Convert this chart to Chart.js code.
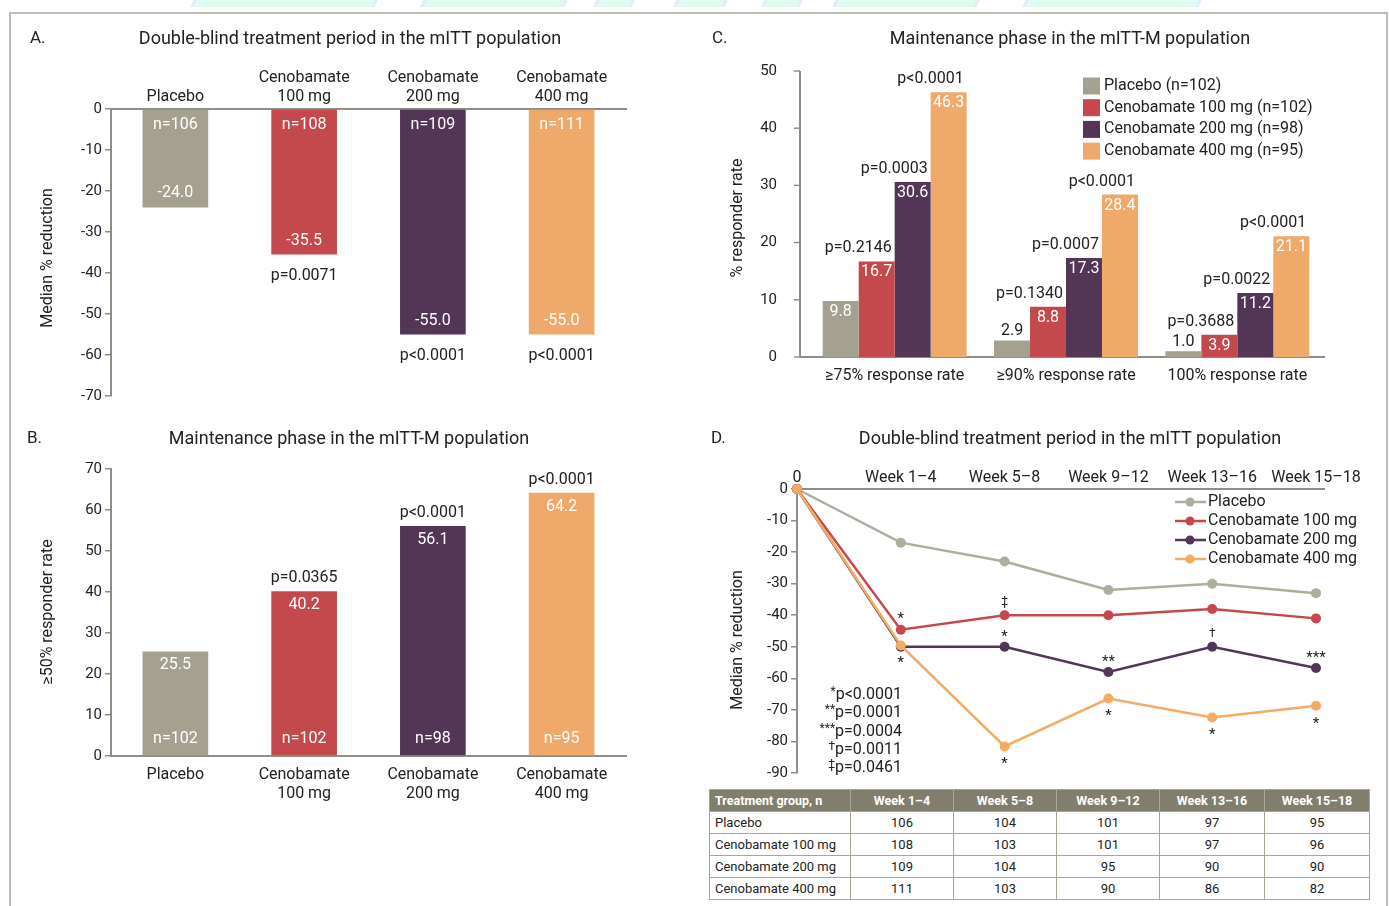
<!DOCTYPE html>
<html>
<head>
<meta charset="utf-8">
<script src="https://cdn.jsdelivr.net/npm/chart.js@4.4.1/dist/chart.umd.min.js"></script>
<style>
    body { margin: 0; background: #fff; width: 1389px; height: 906px; overflow: hidden; position: relative; font-family: Roboto, sans-serif; }
    .frame { position: absolute; left: 9px; top: 12px; width: 1375px; height: 910px; border: 2px solid #bdbdb1; }
    .deco { position: absolute; top: 0; height: 7px; background: #dffbf0; transform: skewX(-25deg); border-left: 3px solid #e4ebfb; border-right: 3px solid #e4ebfb; }
    canvas { position: absolute; display: block; }
    #nTable { position: absolute; left: 709px; top: 789px; width: 660px; border-collapse: collapse; font-size: 13px; color: #222; table-layout: fixed; }
    #nTable th, #nTable td { border: 1px solid #a9a697; height: 21px; padding: 0 5px; text-align: center; }
    #nTable th { background: #827e6e; color: #fff; font-weight: bold; font-size: 12.5px; }
    #nTable td:first-child, #nTable th:first-child { text-align: left; }
</style>
</head>
<body>
<div class="deco" style="left:192px;width:178px"></div>
<div class="deco" style="left:422px;width:138px"></div>
<div class="deco" style="left:595px;width:32px"></div>
<div class="deco" style="left:675px;width:45px"></div>
<div class="deco" style="left:763px;width:32px"></div>
<div class="deco" style="left:834px;width:138px"></div>
<div class="deco" style="left:1024px;width:170px"></div>
<div class="frame"></div>

<canvas id="chartA" width="680" height="395" style="left:10px;top:15px"></canvas>
<canvas id="chartB" width="680" height="400" style="left:10px;top:415px"></canvas>
<canvas id="chartC" width="680" height="395" style="left:700px;top:15px"></canvas>
<canvas id="chartD" width="680" height="370" style="left:700px;top:415px"></canvas>
<table id="nTable">
    <colgroup><col style="width:141px"><col style="width:103px"><col style="width:103px"><col style="width:103px"><col style="width:105px"><col style="width:105px"></colgroup>
    <thead><tr id="nHead"></tr></thead>
    <tbody id="nBody"></tbody>
</table>

<script>
// Data

// Panel A - double-blind period, median % reduction
const aLabels = [['Placebo'], ['Cenobamate', '100 mg'], ['Cenobamate', '200 mg'], ['Cenobamate', '400 mg']];
const aValues = [-24.0, -35.5, -55.0, -55.0];
const aN = ['n=106', 'n=108', 'n=109', 'n=111'];
const aP = ['', 'p=0.0071', 'p<0.0001', 'p<0.0001'];

// Panel B - maintenance phase, >=50% responder rate
const bLabels = [['Placebo'], ['Cenobamate', '100 mg'], ['Cenobamate', '200 mg'], ['Cenobamate', '400 mg']];
const bValues = [25.5, 40.2, 56.1, 64.2];
const bN = ['n=102', 'n=102', 'n=98', 'n=95'];
const bP = ['', 'p=0.0365', 'p<0.0001', 'p<0.0001'];

// Panel C - maintenance phase, responder rates
const cCategories = ['≥75% response rate', '≥90% response rate', '100% response rate'];
const cSeries = ['Placebo (n=102)', 'Cenobamate 100 mg (n=102)', 'Cenobamate 200 mg (n=98)', 'Cenobamate 400 mg (n=95)'];
const cPlacebo = [9.8, 2.9, 1.0];
const c100 = [16.7, 8.8, 3.9];
const c200 = [30.6, 17.3, 11.2];
const c400 = [46.3, 28.4, 21.1];
const cP100 = ['p=0.2146', 'p=0.1340', 'p=0.3688'];
const cP200 = ['p=0.0003', 'p=0.0007', 'p=0.0022'];
const cP400 = ['p<0.0001', 'p<0.0001', 'p<0.0001'];

// Panel D - median % reduction over time
const dWeeks = ['0', 'Week 1–4', 'Week 5–8', 'Week 9–12', 'Week 13–16', 'Week 15–18'];
const dSeries = ['Placebo', 'Cenobamate 100 mg', 'Cenobamate 200 mg', 'Cenobamate 400 mg'];
const dPlacebo = [0, -17, -23, -32, -30, -33];
const d100 = [0, -44.6, -40, -40, -38, -41];
const d200 = [0, -50, -50, -58, -50, -56.7];
const d400 = [0, -49.6, -81.6, -66.4, -72.4, -68.7];
const dMarks100 = ['', '*', '‡', '', '', ''];
const dMarks200 = ['', '', '*', '**', '†', '***'];
const dMarks400 = ['', '*', '*', '*', '*', '*'];
const dFootSym = ['*', '**', '***', '†', '‡'];
const dFootP = ['p<0.0001', 'p=0.0001', 'p=0.0004', 'p=0.0011', 'p=0.0461'];

// Table of n per group
const tHeader = ['Treatment group, n', 'Week 1–4', 'Week 5–8', 'Week 9–12', 'Week 13–16', 'Week 15–18'];
const tGroups = ['Placebo', 'Cenobamate 100 mg', 'Cenobamate 200 mg', 'Cenobamate 400 mg'];
const tPlacebo = [106, 104, 101, 97, 95];
const t100 = [108, 103, 101, 97, 96];
const t200 = [109, 104, 95, 90, 90];
const t400 = [111, 103, 90, 86, 82];

// Styles
const FONT = 'Roboto, sans-serif';
const DARK = '#222';
const AXIS = '#8f8e84';
const groupColors = ['#a4a190', '#c4494d', '#533556', '#eea96b'];
const lineColors = ['#afad9d', '#c8474c', '#54355a', '#f4ab62'];

function txt(ctx, s, x, y, o = {}) {
    ctx.save();
    ctx.font = (o.weight || 'normal') + ' ' + (o.size || 16) + 'px ' + FONT;
    ctx.fillStyle = o.color || DARK;
    ctx.textAlign = o.align || 'center';
    ctx.textBaseline = 'middle';
    if (o.rot) {
        ctx.translate(x, y);
        ctx.rotate(o.rot);
        ctx.fillText(s, 0, 0);
    } else {
        ctx.fillText(s, x, y);
    }
    ctx.restore();
}

// Letter, title and rotated axis title for a panel
function panelText(letter, lx, title, tx, yTitle, yx, yy) {
    return {
        id: 'panelText',
        afterDraw(chart) {
            const ctx = chart.ctx;
            txt(ctx, letter, lx, 24, { size: 17, align: 'left' });
            txt(ctx, title, tx, 24, { size: 18 });
            txt(ctx, yTitle, yx, yy, { size: 16, rot: -Math.PI / 2 });
        }
    };
}

const yTicks = { color: DARK, font: { family: FONT, size: 15 }, padding: 3, stepSize: 10 };
const xTicks = { color: DARK, font: { family: FONT, size: 16 } };
const baseOpts = {
    responsive: false,
    animation: false,
    events: [],
    plugins: { legend: { display: false }, tooltip: { enabled: false } }
};

// Panel A
new Chart(document.getElementById('chartA'), {
    type: 'bar',
    data: {
        labels: aLabels,
        datasets: [{ data: aValues, backgroundColor: groupColors, barPercentage: 0.51, categoryPercentage: 1 }]
    },
    options: {
        ...baseOpts,
        layout: { padding: { left: 41, right: 64, top: 40, bottom: 14 } },
        scales: {
            x: {
                position: 'top',
                grid: { display: false },
                border: { color: AXIS, width: 2 },
                ticks: { ...xTicks, padding: -6 },
                afterFit: s => { s.height = 54; }
            },
            y: {
                min: -70, max: 0,
                ticks: yTicks,
                grid: { drawOnChartArea: false, tickLength: 6, color: AXIS, lineWidth: 1.5 },
                border: { color: AXIS, width: 2 },
                afterFit: s => { s.width = 60; }
            }
        }
    },
    plugins: [panelText('A.', 20, 'Double-blind treatment period in the mITT population', 340, 'Median % reduction', 38, 243), {
        id: 'barText',
        afterDatasetsDraw(chart) {
            const ctx = chart.ctx;
            chart.getDatasetMeta(0).data.forEach((bar, i) => {
                txt(ctx, aN[i], bar.x, bar.base + 15, { color: '#fff', size: 16 });
                txt(ctx, aValues[i].toFixed(1), bar.x, bar.y - 14, { color: '#fff', size: 16 });
                if (aP[i]) txt(ctx, aP[i], bar.x, bar.y + 21, { size: 16 });
            });
        }
    }]
});

// Panel B
new Chart(document.getElementById('chartB'), {
    type: 'bar',
    data: {
        labels: bLabels,
        datasets: [{ data: bValues, backgroundColor: groupColors, barPercentage: 0.51, categoryPercentage: 1 }]
    },
    options: {
        ...baseOpts,
        layout: { padding: { left: 41, right: 64, top: 54, bottom: 9 } },
        scales: {
            x: {
                grid: { display: false },
                border: { color: AXIS, width: 2 },
                ticks: { ...xTicks, padding: 1 },
                afterFit: s => { s.height = 50; }
            },
            y: {
                min: 0, max: 70,
                ticks: yTicks,
                grid: { drawOnChartArea: false, tickLength: 6, color: AXIS, lineWidth: 1.5 },
                border: { color: AXIS, width: 2 },
                afterFit: s => { s.width = 60; }
            }
        }
    },
    plugins: [panelText('B.', 17, 'Maintenance phase in the mITT-M population', 339, '≥50% responder rate', 38, 197), {
        id: 'barText',
        afterDatasetsDraw(chart) {
            const ctx = chart.ctx;
            chart.getDatasetMeta(0).data.forEach((bar, i) => {
                txt(ctx, bValues[i].toFixed(1), bar.x, bar.y + 14, { color: '#fff', size: 16 });
                txt(ctx, bN[i], bar.x, bar.base - 16, { color: '#fff', size: 16 });
                if (bP[i]) txt(ctx, bP[i], bar.x, bar.y - 13, { size: 16 });
            });
        }
    }]
});

// Panel C
const cData = [cPlacebo, c100, c200, c400];
const cPvals = [null, cP100, cP200, cP400];
new Chart(document.getElementById('chartC'), {
    type: 'bar',
    data: {
        labels: cCategories,
        datasets: cData.map((d, i) => ({
            label: cSeries[i], data: d, backgroundColor: groupColors[i],
            categoryPercentage: 0.84, barPercentage: 1
        }))
    },
    options: {
        ...baseOpts,
        layout: { padding: { left: 49, right: 57, top: 56, bottom: 23 } },
        scales: {
            x: {
                grid: { display: false },
                border: { display: false },
                ticks: { ...xTicks, padding: 1 },
                afterFit: s => { s.height = 30; }
            },
            y: {
                min: 0, max: 50,
                ticks: { ...yTicks, padding: 24 },
                grid: { display: false },
                border: { display: false },
                afterFit: s => { s.width = 60; }
            }
        }
    },
    plugins: [panelText('C.', 12, 'Maintenance phase in the mITT-M population', 370, '% responder rate', 38, 203), {
        id: 'axesAndText',
        beforeDatasetsDraw(chart) {
            // y axis sits a little left of the first group
            const ctx = chart.ctx, a = chart.chartArea, y = chart.scales.y;
            const ax = a.left - 9;
            ctx.save();
            ctx.strokeStyle = AXIS;
            ctx.lineWidth = 2;
            ctx.beginPath();
            ctx.moveTo(ax, a.top); ctx.lineTo(ax, a.bottom);
            ctx.moveTo(ax, a.bottom); ctx.lineTo(a.right + 2, a.bottom);
            ctx.stroke();
            ctx.lineWidth = 1.5;
            y.ticks.forEach(t => {
                const py = y.getPixelForValue(t.value);
                ctx.beginPath(); ctx.moveTo(ax - 6, py); ctx.lineTo(ax, py); ctx.stroke();
            });
            ctx.restore();
        },
        afterDatasetsDraw(chart) {
            const ctx = chart.ctx;
            cData.forEach((d, s) => {
                chart.getDatasetMeta(s).data.forEach((bar, i) => {
                    const v = d[i].toFixed(1);
                    if (d[i] < 3.5) txt(ctx, v, bar.x, bar.y - 9, { size: 16 });
                    else txt(ctx, v, bar.x, bar.y + 11, { color: '#fff', size: 16 });
                    if (cPvals[s]) txt(ctx, cPvals[s][i], bar.x + bar.width / 2 - 3, bar.y - 13, { size: 16, align: 'right' });
                });
            });
            // legend
            cSeries.forEach((name, i) => {
                const ly = 71 + i * 21.7;
                ctx.fillStyle = groupColors[i];
                ctx.fillRect(383, ly - 8.5, 17, 17);
                txt(ctx, name, 404, ly, { size: 16, align: 'left' });
            });
        }
    }]
});

// Panel D
const dData = [dPlacebo, d100, d200, d400];
const dMarks = [null, dMarks100, dMarks200, dMarks400];
new Chart(document.getElementById('chartD'), {
    type: 'line',
    data: {
        labels: dWeeks,
        datasets: dData.map((d, i) => ({
            label: dSeries[i], data: d,
            borderColor: lineColors[i], backgroundColor: lineColors[i],
            borderWidth: 2.5, pointRadius: 5, pointBorderWidth: 0,
            pointBackgroundColor: lineColors[i], tension: 0, clip: false,
            order: 3 - i
        }))
    },
    options: {
        ...baseOpts,
        layout: { padding: { left: 37, right: 64, top: 44, bottom: 9 } },
        scales: {
            x: {
                position: 'top',
                grid: { display: false },
                border: { color: AXIS, width: 2 },
                ticks: { ...xTicks, padding: -7 },
                afterFit: s => { s.height = 30; }
            },
            y: {
                min: -90, max: 0,
                ticks: yTicks,
                grid: { drawOnChartArea: false, tickLength: 6, color: AXIS, lineWidth: 1.5 },
                border: { color: AXIS, width: 2 },
                afterFit: s => { s.width = 60; }
            }
        }
    },
    plugins: [panelText('D.', 11, 'Double-blind treatment period in the mITT population', 370, 'Median % reduction', 38, 225), {
        id: 'lineText',
        beforeDatasetsDraw(chart) {
            // top axis line runs a little past the last week
            const ctx = chart.ctx, a = chart.chartArea;
            ctx.save();
            ctx.strokeStyle = AXIS;
            ctx.lineWidth = 2;
            ctx.beginPath(); ctx.moveTo(a.right, a.top); ctx.lineTo(a.right + 9, a.top); ctx.stroke();
            ctx.restore();
        },
        afterDatasetsDraw(chart) {
            const ctx = chart.ctx;
            dMarks.forEach((marks, s) => {
                if (!marks) return;
                chart.getDatasetMeta(s).data.forEach((pt, i) => {
                    if (!marks[i]) return;
                    const below = s === 3;
                    const star = marks[i].startsWith('*');
                    const dy = below ? 15 : -13;
                    txt(ctx, marks[i], pt.x, pt.y + dy + (star ? 3 : 0), { size: star ? 15 : 12 });
                });
            });
            // footnotes
            dFootP.forEach((p, i) => {
                const fy = 280 + i * 18.3;
                ctx.save();
                ctx.font = '16px ' + FONT;
                const w = ctx.measureText(p).width;
                ctx.restore();
                txt(ctx, p, 202, fy, { size: 16, align: 'right' });
                txt(ctx, dFootSym[i], 202 - w, fy - 3, { size: 12, align: 'right' });
            });
            // legend
            dSeries.forEach((name, i) => {
                const ly = 87 + i * 19;
                ctx.save();
                ctx.strokeStyle = lineColors[i];
                ctx.fillStyle = lineColors[i];
                ctx.lineWidth = 2.5;
                ctx.beginPath(); ctx.moveTo(475, ly); ctx.lineTo(506, ly); ctx.stroke();
                ctx.beginPath(); ctx.arc(490, ly, 4.5, 0, Math.PI * 2); ctx.fill();
                ctx.restore();
                txt(ctx, name, 508, ly, { size: 16, align: 'left' });
            });
        }
    }]
});

// n table
const head = document.getElementById('nHead');
tHeader.forEach(h => {
    const th = document.createElement('th');
    th.textContent = h;
    head.appendChild(th);
});
const body = document.getElementById('nBody');
[tPlacebo, t100, t200, t400].forEach((row, r) => {
    const tr = document.createElement('tr');
    tr.innerHTML = `<td>${tGroups[r]}</td>` + row.map(v => `<td>${v}</td>`).join('');
    body.appendChild(tr);
});
</script>
</body>
</html>
